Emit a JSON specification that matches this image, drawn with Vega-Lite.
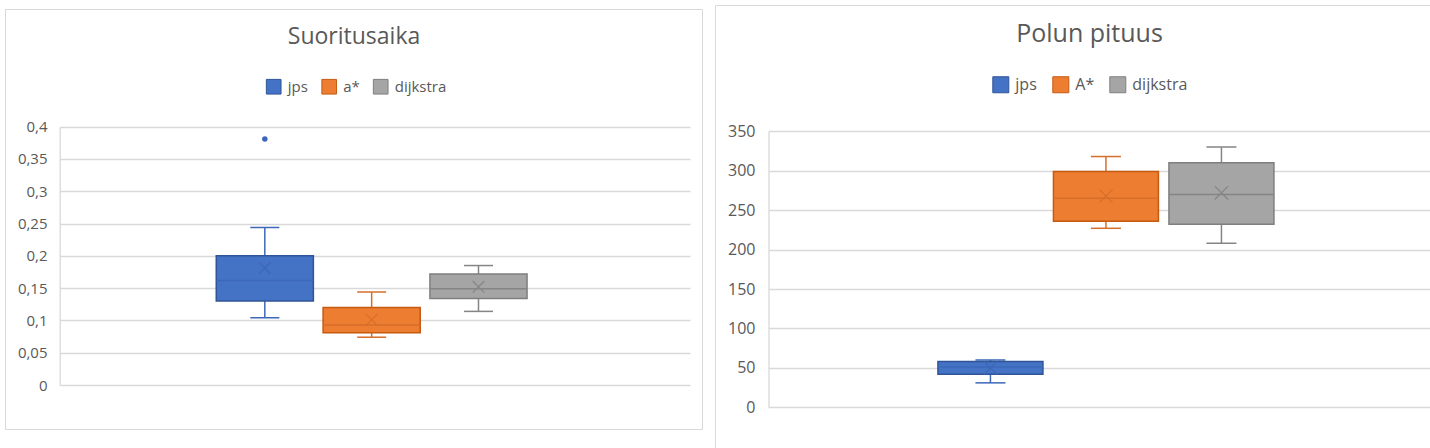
{
  "$schema": "https://vega.github.io/schema/vega-lite/v6.json",
  "background": "white",
  "padding": {"left": 4, "top": 4, "right": 0, "bottom": 0},
  "spacing": 11,
  "datasets": {
    "suoritus": [
      {"series": "jps", "min": 0.104, "q1": 0.130, "median": 0.162, "q3": 0.200, "max": 0.244, "mean": 0.181},
      {"series": "a*", "min": 0.074, "q1": 0.081, "median": 0.093, "q3": 0.120, "max": 0.144, "mean": 0.101},
      {"series": "dijkstra", "min": 0.114, "q1": 0.134, "median": 0.149, "q3": 0.172, "max": 0.185, "mean": 0.152}
    ],
    "suoritus_out": [
      {"series": "jps", "value": 0.381}
    ],
    "polku": [
      {"series": "jps", "min": 31, "q1": 42, "median": 51, "q3": 58, "max": 60, "mean": 50},
      {"series": "A*", "min": 227, "q1": 236, "median": 265, "q3": 299, "max": 318, "mean": 268},
      {"series": "dijkstra", "min": 208, "q1": 232, "median": 270, "q3": 310, "max": 330, "mean": 272}
    ],
    "empty": []
  },
  "config": {
    "view": {"stroke": "#D9D9D9", "strokeWidth": 1},
    "axisY": {"grid": true, "gridColor": "#D9D9D9", "gridWidth": 1.3, "domain": true, "domainColor": "#D9D9D9", "domainWidth": 1.3, "ticks": false, "labelFont": "Open Sans", "labelColor": "#595959", "title": null, "labelOverlap": false},
    "legend": {"labelFont": "Open Sans", "labelColor": "#595959", "symbolStrokeWidth": 1, "symbolOpacity": 1}
  },
  "resolve": {
    "scale": {"x": "independent", "xOffset": "independent", "y": "independent", "color": "independent", "fill": "independent", "stroke": "independent"},
    "legend": {"color": "independent", "fill": "independent", "stroke": "independent"}
  },
  "hconcat": [
    {
      "spacing": 2,
      "vconcat": [
        {
          "width": 697,
          "height": 1,
          "view": {"stroke": null},
          "data": {"name": "empty"},
          "mark": "point",
          "encoding": {}
        },
        {
          "width": 697,
          "height": 420,
          "data": {"name": "suoritus"},
          "encoding": {
            "x": {
              "datum": "1", "type": "nominal",
              "scale": {"range": [54.7, 685], "paddingInner": 0, "paddingOuter": 0.514, "align": 0.49},
              "axis": {"orient": "top", "labels": false, "domain": false, "ticks": false, "grid": false,
                "title": "Suoritusaika", "titleX": 348.5, "titleY": 34.3, "titleAlign": "center", "titleAnchor": null, "titleBaseline": "alphabetic",
                "titleFont": "Open Sans", "titleFontSize": 23, "titleFontWeight": "normal", "titleColor": "#595959"}
            },
            "xOffset": {
              "field": "series", "type": "nominal",
              "scale": {"domain": ["jps", "a*", "dijkstra"], "paddingInner": 0.091, "paddingOuter": 0}
            }
          },
          "layer": [
            {
              "mark": {"type": "rule", "strokeWidth": 1.5},
              "encoding": {
                "y": {"field": "min", "type": "quantitative", "title": null,
                  "scale": {"domain": [0, 0.4], "range": [376, 117.7], "nice": false, "zero": false},
                  "axis": {"values": [0, 0.05, 0.1, 0.15, 0.2, 0.25, 0.3, 0.35, 0.4], "offset": -54.7, "labelPadding": 12.7, "labelFontSize": 15, "labelExpr": "replace(format(datum.value, '~g'), '.', ',')"}},
                "y2": {"field": "max"},
                "color": {"field": "series", "type": "nominal", "scale": {"domain": ["a*", "dijkstra", "jps"], "range": ["#D66E2A", "#858585", "#3D68B8"]}, "legend": null}
              }
            },
            {
              "mark": {"type": "tick", "size": 29, "thickness": 1.5, "opacity": 1},
              "encoding": {
                "y": {"field": "min", "type": "quantitative", "title": null},
                "color": {"field": "series", "type": "nominal", "legend": null}
              }
            },
            {
              "mark": {"type": "tick", "size": 29, "thickness": 1.5, "opacity": 1},
              "encoding": {
                "y": {"field": "max", "type": "quantitative", "title": null},
                "color": {"field": "series", "type": "nominal", "legend": null}
              }
            },
            {
              "mark": {"type": "bar", "strokeWidth": 1.5},
              "encoding": {
                "y": {"field": "q1", "type": "quantitative", "title": null},
                "y2": {"field": "q3"},
                "fill": {"field": "series", "type": "nominal", "scale": {"domain": ["jps", "a*", "dijkstra"], "range": ["#4472C4", "#ED7D31", "#A5A5A5"]},
                  "legend": {"orient": "none", "legendX": 260.7, "legendY": 73.4, "direction": "horizontal", "title": null, "symbolType": "square", "symbolSize": 215, "labelFontSize": 15, "labelOffset": 6, "columnPadding": 10.5}},
                "stroke": {"field": "series", "type": "nominal", "scale": {"domain": ["jps", "a*", "dijkstra"], "range": ["#2F5597", "#C55A11", "#7F7F7F"]}}
              }
            },
            {
              "mark": {"type": "tick", "size": 97, "thickness": 1.5, "opacity": 1},
              "encoding": {
                "y": {"field": "median", "type": "quantitative", "title": null},
                "color": {"field": "series", "type": "nominal", "legend": null}
              }
            },
            {
              "mark": {"type": "point", "shape": "M-1,-1L1,1M-1,1L1,-1", "size": 137, "strokeWidth": 1.2, "filled": false, "opacity": 1},
              "encoding": {
                "y": {"field": "mean", "type": "quantitative", "title": null},
                "color": {"field": "series", "type": "nominal", "legend": null}
              }
            },
            {
              "data": {"name": "suoritus_out"},
              "mark": {"type": "point", "shape": "circle", "size": 30, "filled": true, "opacity": 1},
              "encoding": {
                "y": {"field": "value", "type": "quantitative", "title": null},
                "color": {"field": "series", "type": "nominal", "legend": null}
              }
            }
          ]
        }
      ]
    },
    {
      "width": 748,
      "height": 446,
      "data": {"name": "polku"},
      "encoding": {
        "x": {
          "datum": "1", "type": "nominal",
          "scale": {"range": [53.5, 736], "paddingInner": 0, "paddingOuter": 0.5156, "align": 0.489},
          "axis": {"orient": "top", "labels": false, "domain": false, "ticks": false, "grid": false,
            "title": "Polun pituus", "titleX": 374, "titleY": 36.7, "titleAlign": "center", "titleAnchor": null, "titleBaseline": "alphabetic",
            "titleFont": "Open Sans", "titleFontSize": 25, "titleFontWeight": "normal", "titleColor": "#595959"}
        },
        "xOffset": {
          "field": "series", "type": "nominal",
          "scale": {"domain": ["jps", "A*", "dijkstra"], "paddingInner": 0.091, "paddingOuter": 0}
        }
      },
      "layer": [
        {
          "mark": {"type": "rule", "strokeWidth": 1.5},
          "encoding": {
            "y": {"field": "min", "type": "quantitative", "title": null,
              "scale": {"domain": [0, 350], "range": [402.3, 126.3], "nice": false, "zero": false},
              "axis": {"values": [0, 50, 100, 150, 200, 250, 300, 350], "offset": -53.5, "labelPadding": 13.5, "labelFontSize": 16}},
            "y2": {"field": "max"},
            "color": {"field": "series", "type": "nominal", "scale": {"domain": ["A*", "dijkstra", "jps"], "range": ["#D66E2A", "#858585", "#3D68B8"]}, "legend": null}
          }
        },
        {
          "mark": {"type": "tick", "size": 30, "thickness": 1.5, "opacity": 1},
          "encoding": {
            "y": {"field": "min", "type": "quantitative", "title": null},
            "color": {"field": "series", "type": "nominal", "legend": null}
          }
        },
        {
          "mark": {"type": "tick", "size": 30, "thickness": 1.5, "opacity": 1},
          "encoding": {
            "y": {"field": "max", "type": "quantitative", "title": null},
            "color": {"field": "series", "type": "nominal", "legend": null}
          }
        },
        {
          "mark": {"type": "bar", "strokeWidth": 1.5},
          "encoding": {
            "y": {"field": "q1", "type": "quantitative", "title": null},
            "y2": {"field": "q3"},
            "fill": {"field": "series", "type": "nominal", "scale": {"domain": ["jps", "A*", "dijkstra"], "range": ["#4472C4", "#ED7D31", "#A5A5A5"]},
              "legend": {"orient": "none", "legendX": 277.3, "legendY": 71, "direction": "horizontal", "title": null, "symbolType": "square", "symbolSize": 256, "labelFontSize": 16, "labelOffset": 6, "columnPadding": 13}},
            "stroke": {"field": "series", "type": "nominal", "scale": {"domain": ["jps", "A*", "dijkstra"], "range": ["#2F5597", "#C55A11", "#7F7F7F"]}}
          }
        },
        {
          "mark": {"type": "tick", "size": 105, "thickness": 1.5, "opacity": 1},
          "encoding": {
            "y": {"field": "median", "type": "quantitative", "title": null},
            "color": {"field": "series", "type": "nominal", "legend": null}
          }
        },
        {
          "mark": {"type": "point", "shape": "M-1,-1L1,1M-1,1L1,-1", "size": 177, "strokeWidth": 1.2, "filled": false, "opacity": 1},
          "encoding": {
            "y": {"field": "mean", "type": "quantitative", "title": null},
            "color": {"field": "series", "type": "nominal", "legend": null}
          }
        }
      ]
    }
  ]
}
